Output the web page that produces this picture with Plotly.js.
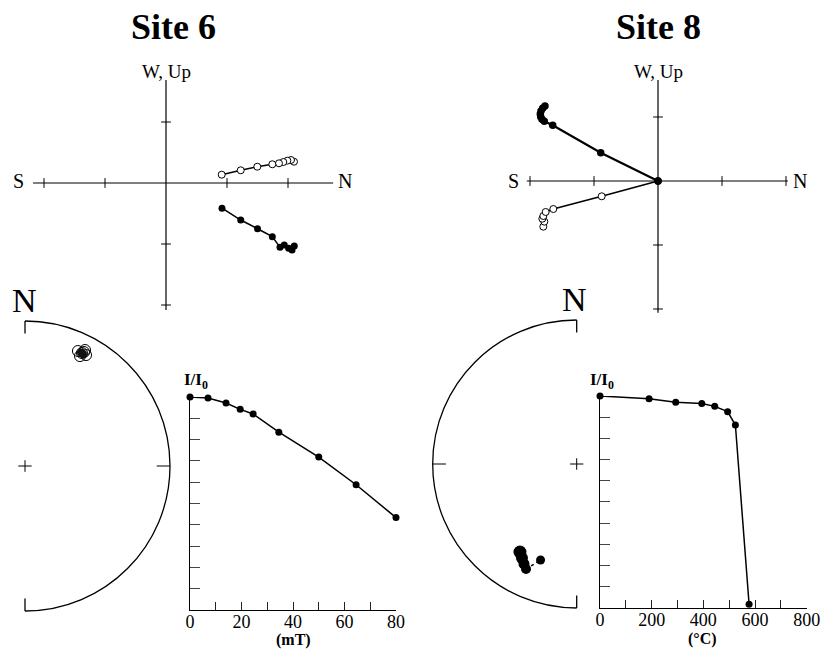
<!DOCTYPE html>
<html><head><meta charset="utf-8">
<script src="https://cdn.plot.ly/plotly-3.0.1.min.js"></script>
<style>html,body{margin:0;padding:0;background:#fff}</style>
</head><body><div id="chart" style="width:821px;height:649px"></div>
<script>
// ---------- data ----------
const siteTitles = ['Site 6', 'Site 8'];
const zLabelS = 'S', zLabelN = 'N', zLabelUp = 'W, Up';
const stereoLabel = 'N';
const intLabel = 'I/I<sub>0</sub>';
const unitLabels = ['(mT)', '(°C)'];

// Site 6 Zijderveld (units = tick spacing)
const z6OpenN  = [2.098, 2.049, 1.989, 1.923, 1.852, 1.743, 1.497, 1.225, 0.913];
const z6OpenW  = [0.349, 0.377, 0.366, 0.344, 0.323, 0.307, 0.267, 0.208, 0.136];
const z6FillN  = [2.103, 2.066, 2.011, 1.939, 1.869, 1.743, 1.500, 1.225, 0.918];
const z6FillUp = [-1.033, -1.098, -1.071, -1.016, -1.055, -0.880, -0.750, -0.607, -0.413];
const z6TicksH = [-2, -1, 1, 2];
const z6TicksV = [1, -1, -2];

// Site 8 Zijderveld
const z8FillN  = [-1.766, -1.802, -1.828, -1.839, -1.833, -1.813, -1.777, -1.645, -0.895, 0];
const z8FillUp = [1.172, 1.136, 1.094, 1.047, 1.005, 0.964, 0.933, 0.870, 0.442, 0];
const z8OpenN  = [-1.792, -1.776, -1.807, -1.792, -1.755, -1.636, -0.880, 0];
const z8OpenW  = [-0.714, -0.635, -0.589, -0.547, -0.484, -0.4375, -0.239, 0];
const z8TicksH = [-2, -1, 1, 2];
const z8TicksV = [1, -1, -2];

// Site 6 stereonet (unit radius)
const s6OpenX = [0.365, 0.414, 0.421, 0.379, 0.393, 0.407];
const s6OpenY = [0.793, 0.800, 0.765, 0.758, 0.779, 0.786];
const s6FillX = [0.386, 0.400, 0.393];
const s6FillY = [0.783, 0.772, 0.776];

// Site 8 stereonet
const s8BigX = [-0.394, -0.380, -0.366, -0.352];
const s8BigY = [-0.611, -0.653, -0.694, -0.729];
const s8SmallX = [-0.251];
const s8SmallY = [-0.667];

// Intensity decay
const afField = [0, 7, 14, 19.5, 24.5, 34.5, 50, 64.5, 80];
const afInt   = [1.0, 0.995, 0.972, 0.942, 0.920, 0.835, 0.718, 0.588, 0.434];
const thTemp  = [0, 190, 293, 394, 444, 494, 524, 577];
const thInt   = [1.0, 0.987, 0.970, 0.964, 0.951, 0.926, 0.863, 0.016];

// ---------- layout helpers ----------
const W = 821, H = 649;
const FONT = '"Liberation Serif", "Times New Roman", serif';
function xAx(p0, p1, ox, s) { return {domain: [p0 / W, p1 / W], range: [(p0 - ox) / s, (p1 - ox) / s]}; }
function yAx(t, b, oy, s) { return {domain: [1 - b / H, 1 - t / H], range: [(oy - b) / s, (oy - t) / s]}; }
function hidden(o, anchor) { return Object.assign({visible: false, anchor: anchor, fixedrange: true}, o); }
function ann(text, px, py, size, bold) {
  return {xref: 'paper', yref: 'paper', x: px / W, y: 1 - py / H, text: bold ? '<b>' + text + '</b>' : text,
    showarrow: false, xanchor: 'center', yanchor: 'middle', font: {family: FONT, size: size, color: 'black'}};
}
function ln(xr, yr, x0, y0, x1, y1, w) {
  return {type: 'line', xref: xr, yref: yr, x0: x0, y0: y0, x1: x1, y1: y1, layer: 'below', line: {color: 'black', width: w || 1.2}};
}
const K = 0.5523;

const lineStyle = {color: 'black', width: 1.5};
const openMk = {symbol: 'circle', size: 7, color: 'white', opacity: 1, line: {color: 'black', width: 1}};
const fillMk = {symbol: 'circle', size: 7, color: 'black', opacity: 1, line: {color: 'black', width: 0}};

function ticksTrace(xa, ya, pos, horiz) {
  return {x: horiz ? pos : pos.map(() => 0), y: horiz ? pos.map(() => 0) : pos, xaxis: xa, yaxis: ya,
    mode: 'markers', hoverinfo: 'skip', cliponaxis: false,
    marker: {symbol: horiz ? 'line-ns' : 'line-ew', size: 7, color: 'black', opacity: 1, line: {color: 'black', width: 1}}};
}

const traces = [
  // Site 6 Zijderveld
  ticksTrace('x', 'y', z6TicksH, true),
  ticksTrace('x', 'y', z6TicksV, false),
  {x: z6OpenN, y: z6OpenW, xaxis: 'x', yaxis: 'y', mode: 'lines+markers', line: lineStyle, marker: openMk, cliponaxis: false},
  {x: z6FillN, y: z6FillUp, xaxis: 'x', yaxis: 'y', mode: 'lines+markers', line: lineStyle, marker: fillMk, cliponaxis: false},
  // Site 8 Zijderveld
  ticksTrace('x2', 'y2', z8TicksH, true),
  ticksTrace('x2', 'y2', z8TicksV, false),
  {x: z8OpenN, y: z8OpenW, xaxis: 'x2', yaxis: 'y2', mode: 'lines+markers', line: lineStyle, marker: openMk, cliponaxis: false},
  {x: z8FillN, y: z8FillUp, xaxis: 'x2', yaxis: 'y2', mode: 'lines+markers', line: {color: 'black', width: 2.2}, marker: Object.assign({}, fillMk, {size: 7.5}), cliponaxis: false},
  // Site 6 stereonet
  {x: s6OpenX, y: s6OpenY, xaxis: 'x3', yaxis: 'y3', mode: 'markers', marker: {symbol: 'circle-open', size: 11, color: 'black', opacity: 1, line: {width: 1}}},
  {x: s6FillX, y: s6FillY, xaxis: 'x3', yaxis: 'y3', mode: 'markers', marker: {symbol: 'circle', size: 8, color: '#111', opacity: 1}},
  // Site 8 stereonet
  {x: [s8BigX[s8BigX.length - 1], s8SmallX[0]], y: [s8BigY[s8BigY.length - 1], s8SmallY[0]], xaxis: 'x4', yaxis: 'y4', mode: 'lines', line: {color: 'black', width: 1.5, dash: 'dot'}},
  {x: s8BigX, y: s8BigY, xaxis: 'x4', yaxis: 'y4', mode: 'markers', marker: {symbol: 'circle', size: [13, 12, 11, 10], color: 'black', opacity: 1, line: {width: 0}}},
  {x: s8SmallX, y: s8SmallY, xaxis: 'x4', yaxis: 'y4', mode: 'markers', marker: {symbol: 'circle', size: 9, color: 'black', opacity: 1, line: {width: 0}}},
  // Intensity
  {x: afField, y: afInt, xaxis: 'x5', yaxis: 'y5', mode: 'lines+markers', line: lineStyle, marker: fillMk, cliponaxis: false},
  {x: thTemp, y: thInt, xaxis: 'x6', yaxis: 'y6', mode: 'lines+markers', line: lineStyle, marker: fillMk, cliponaxis: false}
];

function intX(p0, p1, rng, dt) {
  return {domain: [p0 / W, p1 / W], range: rng, showline: true, linecolor: 'black', linewidth: 1.3,
    ticks: 'inside', ticklen: 8, tickwidth: 1, tickcolor: '#222', tick0: 0, dtick: dt, ticklabelstandoff: -5,
    tickfont: {family: FONT, size: 18, color: 'black'}, showgrid: false, zeroline: false, fixedrange: true,
    minor: {tick0: 0, dtick: dt / 2, ticks: 'inside', ticklen: 8, tickwidth: 1, tickcolor: '#222', showgrid: false}};
}
function intY(t, b) {
  return {domain: [1 - b / H, 1 - t / H], range: [0, 1], showline: true, linecolor: 'black', linewidth: 1.3,
    ticks: 'inside', ticklen: 10, tickwidth: 1, tickcolor: '#444', tick0: 0, dtick: 0.1, showticklabels: false,
    showgrid: false, zeroline: false, fixedrange: true};
}

const layout = {
  width: W, height: H, margin: {l: 0, r: 0, t: 0, b: 0}, showlegend: false,
  paper_bgcolor: 'white', plot_bgcolor: 'rgba(0,0,0,0)', hovermode: false,
  xaxis:  hidden(xAx(0, 410, 166, 61), 'y'),
  yaxis:  hidden(yAx(40, 330, 183, 61), 'x'),
  xaxis2: hidden(xAx(411, 821, 658, 64), 'y2'),
  yaxis2: hidden(yAx(40, 330, 181, 64), 'x2'),
  xaxis3: hidden(xAx(0, 185, 25, 145), 'y3'),
  yaxis3: hidden(yAx(280, 645, 466, 145), 'x3'),
  xaxis4: hidden(xAx(420, 598, 576.7, 144), 'y4'),
  yaxis4: hidden(yAx(280, 645, 464, 144), 'x4'),
  xaxis5: Object.assign(intX(190, 396, [0, 80], 20), {anchor: 'y5'}),
  yaxis5: Object.assign(intY(397, 610), {anchor: 'x5'}),
  xaxis6: Object.assign(intX(600, 806.7, [0, 800], 200), {anchor: 'y6'}),
  yaxis6: Object.assign(intY(396, 607.7), {anchor: 'x6'}),
  shapes: [
    // Site 6 Zijderveld axes
    ln('x', 'y', -2.18, 0, 2.74, 0), ln('x', 'y', 0, 1.69, 0, -2.08),
    // Site 8 Zijderveld axes
    ln('x2', 'y2', -2.05, 0, 2.03, 0), ln('x2', 'y2', 0, 1.58, 0, -2.06),
    // Site 6 stereonet
    {type: 'path', xref: 'x3', yref: 'y3', layer: 'below', line: {color: 'black', width: 1.3},
     path: `M 0 1 C ${K} 1 1 ${K} 1 0 C 1 ${-K} ${K} -1 0 -1`},
    ln('x3', 'y3', 0, 1, 0, 0.913, 1.3), ln('x3', 'y3', 0, -1, 0, -0.913, 1.3), ln('x3', 'y3', 1, 0, 0.908, 0, 1),
    ln('x3', 'y3', -0.046, 0, 0.046, 0, 1), ln('x3', 'y3', 0, -0.04, 0, 0.04, 1),
    // Site 8 stereonet
    {type: 'path', xref: 'x4', yref: 'y4', layer: 'below', line: {color: 'black', width: 1.3},
     path: `M 0 1 C ${-K} 1 -1 ${K} -1 0 C -1 ${-K} ${-K} -1 0 -1`},
    ln('x4', 'y4', 0, 1, 0, 0.913, 1.3), ln('x4', 'y4', 0, -1, 0, -0.913, 1.3), ln('x4', 'y4', -1, 0, -0.908, 0, 1),
    ln('x4', 'y4', -0.046, 0, 0.046, 0, 1), ln('x4', 'y4', 0, -0.04, 0, 0.04, 1)
  ],
  annotations: [
    ann(siteTitles[0], 173, 27, 36, true),
    ann(siteTitles[1], 658, 27, 36, true),
    ann(zLabelUp, 166, 72, 19, false),
    ann(zLabelUp, 658, 72, 19, false),
    ann(zLabelS, 18, 181, 20, false),
    ann(zLabelN, 345, 181, 20, false),
    ann(zLabelS, 513, 181, 20, false),
    ann(zLabelN, 800, 181, 20, false),
    ann(stereoLabel, 24, 300, 34, false),
    ann(stereoLabel, 574, 299, 34, false),
    ann(intLabel, 196, 381, 17, true),
    ann(intLabel, 602, 381, 17, true),
    ann(unitLabels[0], 293, 640, 16, true),
    ann(unitLabels[1], 702, 639, 16, true)
  ]
};

Plotly.newPlot('chart', traces, layout, {staticPlot: true, displayModeBar: false});
</script></body></html>
